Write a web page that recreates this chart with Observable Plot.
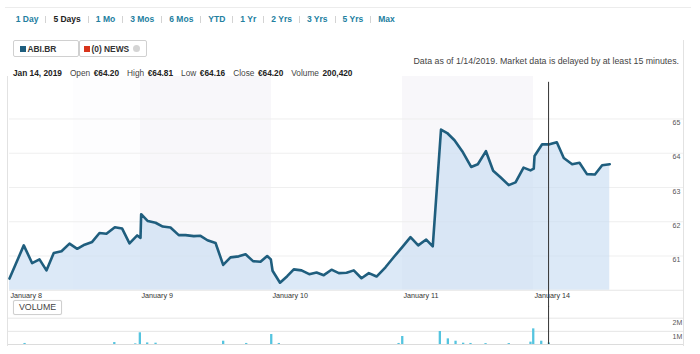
<!DOCTYPE html>
<html><head><meta charset="utf-8">
<script src="https://cdn.jsdelivr.net/npm/d3@7"></script>
<script src="https://cdn.jsdelivr.net/npm/@observablehq/plot@0.6"></script>
<style>
body{margin:0;background:#fff;font-family:"Liberation Sans",Arial,sans-serif;}
#root{position:relative;width:700px;height:354px;overflow:hidden;background:#fff;}
#tabs{position:absolute;left:15.7px;top:13px;display:flex;align-items:center;font-size:8.5px;font-weight:bold;line-height:12px;white-space:nowrap;}
#tabs .t{color:#23809f;}
#tabs .t.active{color:#222;}
#tabs .sep{display:inline-block;width:1px;height:7px;background:#d3d3d3;margin:0 7px;}
.chip{position:absolute;top:40px;height:15px;border:1px solid #d0d0d0;border-radius:2px;display:flex;align-items:center;font-size:8.4px;font-weight:bold;color:#333;box-sizing:content-box;background:#fff;}
.sq{display:inline-block;width:6px;height:6px;margin-right:1.5px;}
#note{position:absolute;right:21px;top:56px;font-size:8.8px;color:#444;white-space:nowrap;}
#quote{position:absolute;left:13px;top:68px;font-size:8.3px;color:#333;white-space:nowrap;z-index:3;}
#quote b{font-weight:bold;color:#222;}
#quote .lab{margin-left:8px;margin-right:3.5px;color:#444;}
#price{position:absolute;left:0;top:70px;}
#volume{position:absolute;left:0;top:306px;}
#volbtn{position:absolute;left:13px;top:300px;width:47px;height:13px;border:1px solid #cfcfcf;border-radius:2px;background:#fff;font-size:8.8px;color:#444;text-align:center;line-height:13px;z-index:4;box-shadow:0 0 1px #ddd;}
.ln{position:absolute;background:#e2e2e2;}
</style></head>
<body><div id="root">
<div class="ln" style="left:5px;top:7px;width:686px;height:1px;background:#ececec"></div>
<div id="tabs"></div>
<div class="chip" style="left:13px;width:58px;padding-left:6px"><span class="sq" style="background:#1f5e7e"></span><span id="sym"></span></div>
<div class="chip" style="left:79px;width:62px;padding-left:4px"><span class="sq" style="background:#d8341c"></span><span id="news"></span><span style="display:inline-block;width:7px;height:7px;border-radius:50%;background:#d4d4d4;margin-left:4px"></span></div>
<div id="note"></div>
<div id="quote"></div>
<div id="price"></div>
<div id="volume"></div>
<div id="volbtn">VOLUME</div>
<div class="ln" style="left:7px;top:76px;width:1px;height:270px"></div>
<div class="ln" style="left:683px;top:40px;width:1px;height:306px"></div>
</div>
<script>
// ---- data ----
const rangeTabs = ["1 Day","5 Days","1 Mo","3 Mos","6 Mos","YTD","1 Yr","2 Yrs","3 Yrs","5 Yrs","Max"];
const activeTab = "5 Days";
const symbol = "ABI.BR";
const newsLabel = "(0) NEWS";
const noteText = "Data as of 1/14/2019. Market data is delayed by at least 15 minutes.";
const quoteDate = "Jan 14, 2019";
const quoteLabels = ["Open","High","Low","Close","Volume"];
const quoteValues = ["€64.20","€64.81","€64.16","€64.20","200,420"];

const dayLabels = ["January 8","January 9","January 10","January 11","January 14"];
const dayTicks = [0,1,2,3,4];
const shadedDays = [1,3];
const yTicks = [61,62,63,64,65];

// time in trading-day units (0 = open of Jan 8)
const priceTimes = [
 0.000,0.109,0.173,0.229,0.282,0.338,0.397,0.458,0.517,0.573,0.631,0.687,0.740,0.804,0.860,0.916,0.975,1.000,
 1.005,1.056,1.115,1.170,1.229,1.292,1.344,1.407,1.458,1.511,1.573,1.631,1.687,1.750,1.802,1.859,1.916,1.967,1.995,
 2.008,2.065,2.120,2.170,2.229,2.288,2.344,2.399,2.458,2.514,2.573,2.628,2.687,2.743,2.802,2.870,2.934,2.998,
 3.061,3.120,3.181,3.231,3.294,3.341,3.397,3.456,3.524,3.575,3.637,3.692,3.748,3.811,3.863,3.924,3.977,4.002,
 4.008,4.066,4.122,4.178,4.231,4.295,4.351,4.408,4.469,4.524,4.582];
const prices = [
 60.34,61.31,60.79,60.90,60.58,61.09,61.14,61.36,61.21,61.33,61.41,61.67,61.65,61.84,61.80,61.37,61.60,61.53,
 62.22,62.02,61.97,61.86,61.83,61.61,61.61,61.58,61.59,61.46,61.38,60.74,60.96,60.99,61.05,60.85,60.83,61.00,60.90,
 60.57,60.22,60.41,60.61,60.58,60.47,60.52,60.44,60.60,60.50,60.51,60.58,60.35,60.50,60.40,60.67,60.97,61.26,
 61.55,61.31,61.48,61.28,64.69,64.59,64.38,64.06,63.60,63.68,64.06,63.49,63.30,63.07,63.15,63.58,63.50,63.55,
 63.92,64.26,64.26,64.32,63.86,63.68,63.72,63.39,63.38,63.65,63.68];

const volTimes = [0.115,0.800,0.960,0.995,1.051,1.115,1.631,1.807,1.998,2.056,2.970,2.998,3.285,3.346,3.405,3.463,3.519,3.634,3.811,3.977,3.998,4.059,4.117];
const volumes  = [0.08, 0.15, 0.05, 0.89, 0.12, 0.10, 0.25, 0.08, 0.76, 0.08, 0.08, 0.61, 0.99, 0.43, 0.25, 0.10, 0.08, 0.07, 0.07, 0.18, 1.19, 0.25, 0.12];
const volTicks = [1,2];
const volLabels = ["1M","2M"];
const cursorTime = [4.115];

// ---- header ----
const tabs = document.getElementById("tabs");
rangeTabs.forEach((r,i)=>{
  if(i>0){const s=document.createElement("span");s.className="sep";tabs.appendChild(s);}
  const e=document.createElement("span");e.className="t"+(r===activeTab?" active":"");e.textContent=r;tabs.appendChild(e);
});
document.getElementById("sym").textContent=symbol;
document.getElementById("news").textContent=newsLabel;
document.getElementById("note").textContent=noteText;
const q=document.getElementById("quote");
q.innerHTML="<b>"+quoteDate+"</b>"+quoteLabels.map((l,i)=>'<span class="lab">'+l+'</span><b>'+quoteValues[i]+'</b>').join("");

// ---- price chart ----
const series = priceTimes.map((t,i)=>({t, v:prices[i]}));
const yTop = 66.24;
const font = {fontFamily:"Liberation Sans, Arial, sans-serif", background:"transparent", overflow:"visible"};
const price = Plot.plot({
  width:700, height:236, marginLeft:9, marginRight:36, marginTop:6, marginBottom:16.25,
  style:font,
  x:{domain:[0,5], axis:null},
  y:{domain:[60,yTop], axis:null},
  marks:[
    Plot.rect([0.49], {x1:d=>d, x2:()=>1, y1:()=>60, y2:()=>yTop, fill:"#fdfdfe"}),
    Plot.rect(shadedDays, {x1:d=>d, x2:d=>d+1, y1:()=>60, y2:()=>yTop, fill:"#f8f7fa"}),
    Plot.ruleY(yTicks, {y:d=>d, x1:()=>0, x2:()=>5.145, stroke:"#efefef", strokeWidth:1}),
    Plot.areaY(series, {x:"t", y1:()=>60, y2:"v", fill:"#c6dbf2", fillOpacity:0.62}),
    Plot.line(series, {x:"t", y:"v", stroke:"#1f5e7e", strokeWidth:2.6, strokeLinejoin:"round"}),
    Plot.ruleY([60], {x1:()=>0, x2:()=>5.145, stroke:"#e6e6e6"}),
    Plot.text(yTicks, {x:()=>5, y:d=>d, text:d=>String(d), dx:8, dy:4, textAnchor:"start", fontSize:7, fill:"#555"}),
    Plot.text(dayTicks.map((d,i)=>({d, s:dayLabels[i]})), {x:"d", y:()=>60, text:"s", dx:1, dy:5, textAnchor:"start", fontSize:7.2, fill:"#333"}),
    Plot.ruleX(cursorTime, {x:d=>d, y1:()=>66.07, y2:()=>59.5, stroke:"#333", strokeWidth:1})
  ]
});
document.getElementById("price").appendChild(price);

// ---- volume chart ----
const vols = volTimes.map((t,i)=>({t, v:volumes[i]}));
const volume = Plot.plot({
  width:700, height:40, marginLeft:9, marginRight:36, marginTop:11.7, marginBottom:2,
  style:font,
  x:{domain:[0,5], axis:null},
  y:{domain:[0,2], axis:null},
  marks:[
    Plot.ruleY(volTicks, {y:d=>d, x1:()=>-0.015, x2:()=>5.145, stroke:"#e6e6e6"}),
    Plot.ruleY([0], {x1:()=>-0.015, x2:()=>5.145, stroke:"#dcdcdc"}),
    Plot.ruleX(vols, {x:"t", y1:()=>0, y2:"v", stroke:"#55c4df", strokeWidth:2.3}),
    Plot.text(volTicks.map((d,i)=>({d, s:volLabels[i]})), {x:()=>5, y:"d", text:"s", dx:8, dy:5, textAnchor:"start", fontSize:7, fill:"#555"}),
    Plot.ruleX(cursorTime, {x:d=>d, y1:()=>0, y2:()=>2.89, stroke:"#333", strokeWidth:1})
  ]
});
document.getElementById("volume").appendChild(volume);
</script>
</body></html>
